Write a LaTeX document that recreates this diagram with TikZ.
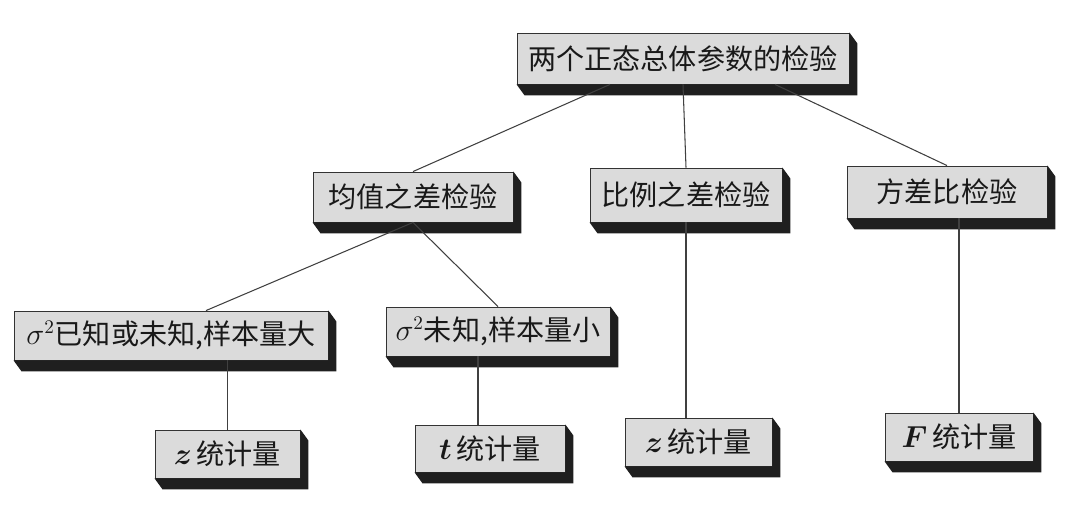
\documentclass[tikz,border=0pt]{standalone}
\usepackage{amsmath}
\usepackage{fontspec}
\newfontfamily\cjk{Noto Sans CJK SC}
\usepackage{tikz}
\usetikzlibrary{positioning}
\tikzset{
    box/.style={draw=black!80, line width=0.5pt, rectangle, fill=black!14, inner sep=0pt,
        font=\cjk\fontsize{16}{19}\selectfont, text=black!90, align=center},
    link/.style={draw=black!75, line width=0.6pt}
}

\begin{document}
\begin{tikzpicture}[x=1cm, y=1cm]
    \useasboundingbox (0,0) rectangle (21.6,-10.28);
    % level 0
    \node (top) [box, minimum width=6.64cm, minimum height=1.02cm] at (13.66,-1.17) {两个正态总体参数的检验};
    % level 1
    \node (mean) [box, minimum width=4.0cm, minimum height=1.0cm] at (8.26,-3.94) {均值之差检验};
    \node (prop) [box, minimum width=3.84cm, minimum height=1.08cm] at (13.72,-3.90) {比例之差检验};
    \node (var) [box, minimum width=4.0cm, minimum height=1.04cm] at (18.94,-3.84) {方差比检验};
    % level 2
    \node (big) [box, minimum width=6.28cm, minimum height=0.98cm] at (3.42,-6.71) {$\sigma^2$已知或未知,样本量大};
    \node (small) [box, minimum width=4.48cm, minimum height=0.98cm] at (9.96,-6.63) {$\sigma^2$未知,样本量小};
    % level 3
    \node (z1) [box, minimum width=2.9cm, minimum height=0.96cm] at (4.55,-9.08) {$\boldsymbol{z}$\,统计量};
    \node (t) [box, minimum width=3.0cm, minimum height=0.94cm] at (9.80,-8.97) {$\boldsymbol{t}$\,统计量};
    \node (z2) [box, minimum width=2.94cm, minimum height=0.96cm] at (13.97,-8.84) {$\boldsymbol{z}$\,统计量};
    \node (F) [box, minimum width=2.96cm, minimum height=0.96cm] at (19.18,-8.74) {$\boldsymbol{F}$\,统计量};

    % 3d sides
    \foreach \n in {top,mean,prop,var,big,small,z1,t,z2,F}
        \fill[black!88] (\n.north east) -- ([shift={(0.16,-0.22)}]\n.north east)
            -- ([shift={(0.16,-0.22)}]\n.south east) -- ([shift={(0.16,-0.22)}]\n.south west)
            -- (\n.south west) -- (\n.south east) -- cycle;

    \draw [link] ([xshift=-1.46cm]top.south) -- (mean.north);
    \draw [link] (top.south) -- (prop.north);
    \draw [link] ([xshift=1.84cm]top.south) -- (var.north);
    \draw [link] (mean.south) -- ([xshift=0.7cm]big.north);
    \draw [link] (mean.south) -- (small.north);
    \draw [link] (z1.north) -- (z1.north |- big.south);
    \draw [link] ([xshift=-0.24cm]t.north) -- ([xshift=-0.24cm]t.north |- small.south);
    \draw [link] (prop.south) -- (prop.south |- z2.north);
    \draw [link] (F.north) -- (F.north |- var.south);
\end{tikzpicture}
\end{document}
